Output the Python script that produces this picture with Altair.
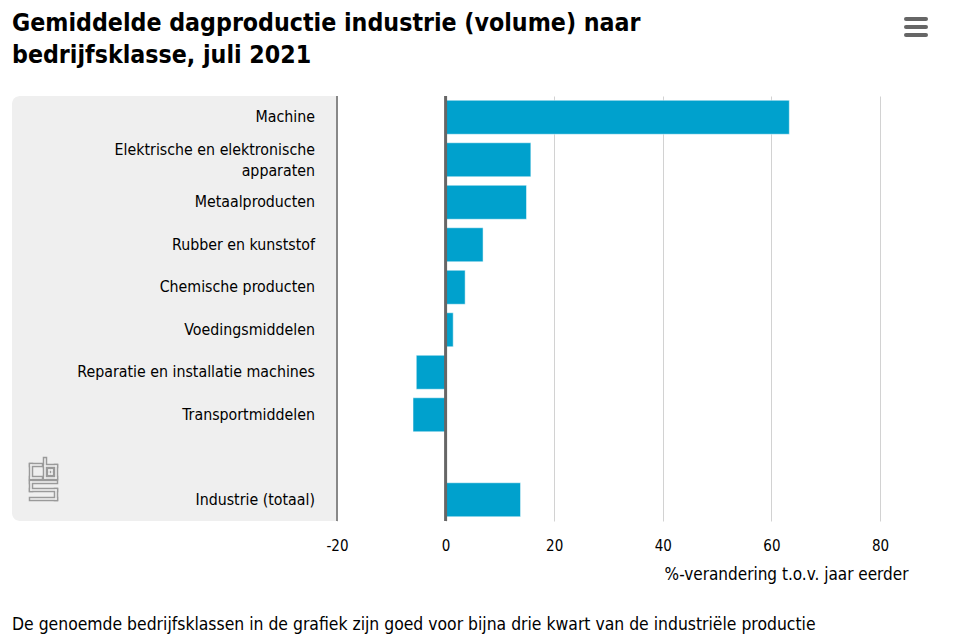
import altair as alt
import pandas as pd

categories = [
    "Machine",
    "Elektrische en elektronische\napparaten",
    "Metaalproducten",
    "Rubber en kunststof",
    "Chemische producten",
    "Voedingsmiddelen",
    "Reparatie en installatie machines",
    "Transportmiddelen",
    " ",
    "Industrie (totaal)",
]
values = [63.3, 15.7, 14.9, 6.9, 3.6, 1.4, -5.4, -6.0, None, 13.8]
x_ticks = [-20, 0, 20, 40, 60, 80]

title_lines = ["Gemiddelde dagproductie industrie (volume) naar", "bedrijfsklasse, juli 2021"]
x_title = "%-verandering t.o.v. jaar eerder"
footer = "De genoemde bedrijfsklassen in de grafiek zijn goed voor bijna drie kwart van de industriële productie"

FONT = "Liberation Sans Narrow, DejaVu Sans Condensed, Roboto Condensed, Arial Narrow, sans-serif"
BAR = "#00a1cd"

df = pd.DataFrame({"cat": categories, "val": values})
df["label"] = df["cat"].str.split("\n")
df["nlines"] = df["label"].str.len()
one = pd.DataFrame({"k": [0]})

LW, RW, H = 325, 543, 425

yscale = alt.Scale(domain=categories, paddingInner=0.2, paddingOuter=0.1)

# header: title + menu icon
title_mark = alt.Chart(one).mark_text(
    align="left", baseline="alphabetic", font=FONT, fontSize=24.7, fontWeight="bold",
    color="#000", lineHeight=32
).encode(x=alt.value(0), y=alt.value(21), text=alt.value(title_lines))
icon = [
    alt.Chart(one).mark_rule(color="#666666", strokeWidth=4, strokeCap="round").encode(
        x=alt.value(894), x2=alt.value(914), y=alt.value(yy), y2=alt.value(yy)
    )
    for yy in (9, 17, 25)
]
header = alt.layer(title_mark, *icon).properties(width=LW + RW, height=84)

# left label panel
bg = alt.Chart(one).mark_rect(
    color="#efefef", cornerRadiusTopLeft=8, cornerRadiusBottomLeft=8
).encode(x=alt.value(0), x2=alt.value(LW), y=alt.value(0), y2=alt.value(H))

label_base = alt.Chart(df).encode(
    y=alt.Y("cat:N", scale=yscale, axis=None, sort=categories),
    x=alt.value(LW - 22),
    text="label",
)
labels1 = label_base.mark_text(
    align="right", baseline="middle", font=FONT, fontSize=15.8, color="#000", lineHeight=21
).transform_filter("datum.nlines == 1")
labels2 = label_base.mark_text(
    align="right", baseline="middle", font=FONT, fontSize=15.8, color="#000", lineHeight=21, dy=-10
).transform_filter("datum.nlines == 2")

# CBS logo (decorative outline strokes)
logo_segments = [
    (19, 369, 29, 369), (19, 369, 19, 382), (19, 382, 29, 382),
    (33, 363, 33, 382), (33, 370, 44, 370), (44, 370, 44, 382), (33, 382, 44, 382),
    (37, 374, 40, 374), (37, 378, 40, 378), (37, 374, 37, 378), (40, 374, 40, 378),
    (19, 386, 44, 386), (19, 386, 19, 394), (19, 394, 44, 394), (44, 394, 44, 403), (19, 403, 44, 403),
]
logo = []
for w, c in ((4.5, "#9a9a9a"), (1.6, "#efefef")):
    for (x1, y1, x2, y2) in logo_segments:
        logo.append(
            alt.Chart(one).mark_rule(color=c, strokeWidth=w, strokeCap="square").encode(
                x=alt.value(x1), x2=alt.value(x2), y=alt.value(y1), y2=alt.value(y2)
            )
        )

left = alt.layer(bg, labels1, labels2, *logo).properties(width=LW, height=H)

# bars panel
bars = alt.Chart(df).mark_bar(color=BAR, stroke="white", strokeWidth=0.5).encode(
    x=alt.X(
        "val:Q",
        scale=alt.Scale(domain=[-20, 80], nice=False),
        axis=alt.Axis(
            values=x_ticks,
            grid=True,
            gridColor="#d2d2d2",
            domain=False,
            ticks=False,
            labelFlush=False,
            labelExpr="'' + datum.value",
            labelFont=FONT,
            labelFontSize=15,
            labelColor="#000",
            labelPadding=17,
            title=x_title,
            titleFont=FONT,
            titleFontSize=17,
            titleFontWeight="normal",
            titleColor="#000",
            titleAlign="right",
            titleAnchor="end",
            titleX=RW + 28,
            titleY=45,
        ),
    ),
    y=alt.Y("cat:N", scale=yscale, axis=None, sort=categories),
)
zero = alt.Chart(one).mark_rule(color="#666666", strokeWidth=3).encode(
    x=alt.datum(0), y=alt.value(0), y2=alt.value(H)
)
edge = alt.Chart(one).mark_rule(color="#888888", strokeWidth=2).encode(
    x=alt.value(0), y=alt.value(0), y2=alt.value(H)
)
right = alt.layer(bars, zero, edge).properties(width=RW, height=H)

body = alt.hconcat(left, right, spacing=0, bounds="flush")

foot = alt.Chart(one).mark_text(
    align="left", baseline="middle", font=FONT, fontSize=17.4, color="#000"
).encode(x=alt.value(0), y=alt.value(43), text=alt.value(footer)).properties(
    width=LW + RW, height=52
)

chart = alt.vconcat(header, body, foot, spacing=0).properties(
    padding={"left": 4, "top": 2, "right": 5, "bottom": 5},
).configure_view(stroke=None)

chart.save("out.html", embed_options={"renderer": "svg", "actions": False})
